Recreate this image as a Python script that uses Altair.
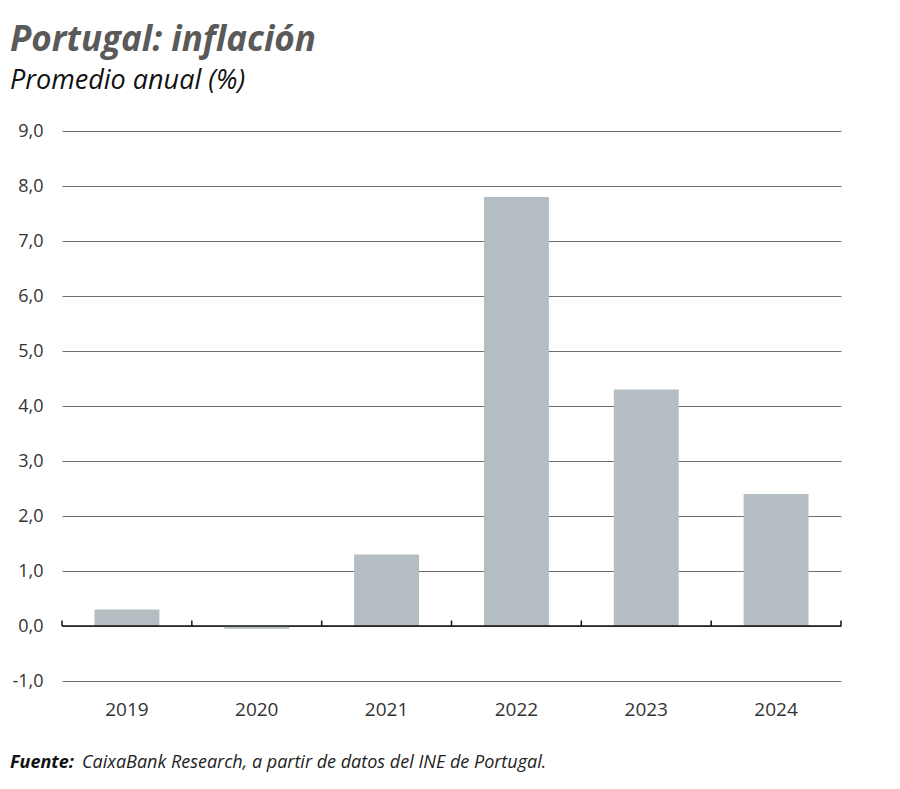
import altair as alt
import pandas as pd

years = ["2019", "2020", "2021", "2022", "2023", "2024"]
values = [0.3, -0.05, 1.3, 7.8, 4.3, 2.4]
y_ticks = [-1, 0, 1, 2, 3, 4, 5, 6, 7, 8, 9]

df = pd.DataFrame({"year": years, "value": values})
ticks_df = pd.DataFrame({"slot": years, "y0": [0] * len(years), "y1": [0.1] * len(years)})
last_df = ticks_df.tail(1)

FONT = "Open Sans"
W, H = 779, 550

yscale = alt.Scale(domain=[-1, 9], nice=False, zero=False)
xscale = alt.Scale(domain=years, paddingInner=0.5, paddingOuter=0.25)
slot_scale = alt.Scale(domain=years, paddingInner=0, paddingOuter=0)

bars = alt.Chart(df).mark_bar(color="#b3bdc2").encode(
    x=alt.X("year:N", scale=xscale, sort=years,
            axis=alt.Axis(title=None, labelAngle=0, domain=False, ticks=False,
                          labelPadding=19, labelFontSize=19, labelColor="#333333",
                          labelFont=FONT)),
    y=alt.Y("value:Q", scale=yscale,
            axis=alt.Axis(title=None, values=y_ticks, domain=False, ticks=False,
                          labelPadding=19, labelFontSize=18, labelColor="#333333",
                          labelFont=FONT, gridColor="#6e6e6e", gridWidth=1,
                          labelExpr="replace(replace(format(datum.value, '.1f'), '.', ','), '\u2212', '-')")),
)

zero = alt.Chart(pd.DataFrame({"y": [0]})).mark_rule(color="#111111", strokeWidth=1.6).encode(
    y=alt.Y("y:Q", scale=yscale), x=alt.value(0), x2=alt.value(W)
)

tick_rules = alt.Chart(ticks_df).mark_rule(color="#111111", strokeWidth=1.5).encode(
    x=alt.X("slot:N", scale=slot_scale, sort=years, bandPosition=0, axis=None),
    y=alt.Y("y0:Q", scale=yscale), y2="y1:Q"
)
tick_last = alt.Chart(last_df).mark_rule(color="#111111", strokeWidth=1.5).encode(
    x=alt.X("slot:N", scale=slot_scale, sort=years, bandPosition=1, axis=None),
    y=alt.Y("y0:Q", scale=yscale), y2="y1:Q"
)

foot_bold = alt.Chart(pd.DataFrame({"t": ["Fuente:"]})).mark_text(
    align="left", baseline="alphabetic", font=FONT, fontSize=18,
    fontWeight="bold", fontStyle="italic", color="#111111"
).encode(text="t:N", x=alt.value(-52), y=alt.value(H + 87))

foot_rest = alt.Chart(pd.DataFrame({"t": ["CaixaBank Research, a partir de datos del INE de Portugal."]})).mark_text(
    align="left", baseline="alphabetic", font=FONT, fontSize=18,
    fontStyle="italic", color="#222222"
).encode(text="t:N", x=alt.value(20), y=alt.value(H + 87))

chart = alt.layer(bars, zero, tick_rules, tick_last, foot_bold, foot_rest).resolve_scale(
    x="independent"
).properties(
    width=W, height=H,
    title=alt.Title(
        "Portugal: inflación",
        subtitle="Promedio anual (%)",
        anchor="start", frame="group", dx=-52, offset=28,
        font=FONT, fontSize=35, fontWeight="bold", fontStyle="italic", color="#5a5a5a",
        subtitleFont=FONT, subtitleFontSize=27, subtitleFontStyle="italic",
        subtitleColor="#111111", subtitlePadding=10,
    ),
    padding={"left": 54, "top": 123, "right": 40, "bottom": 100},
    autosize=alt.AutoSizeParams(type="none"),
).configure(background="white").configure_view(stroke=None)

chart.save("out.html", embed_options={"renderer": "svg", "actions": False})
